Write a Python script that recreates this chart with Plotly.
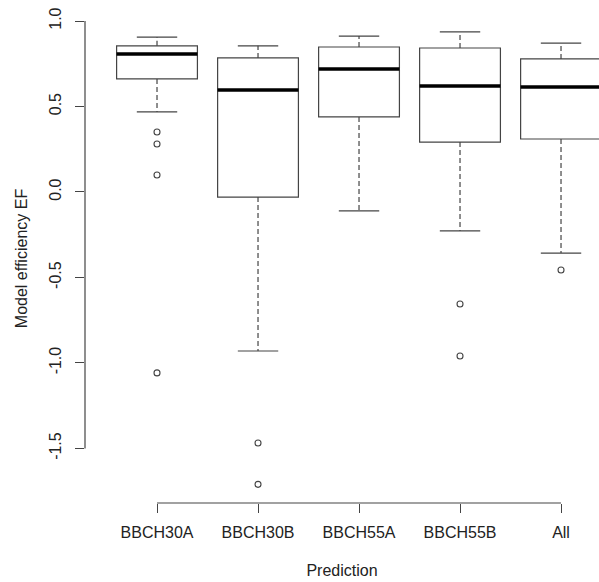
import plotly.graph_objects as go

categories = ["BBCH30A", "BBCH30B", "BBCH55A", "BBCH55B", "All"]
upper_whisker = [0.906, 0.855, 0.912, 0.936, 0.871]
q3 = [0.855, 0.784, 0.848, 0.842, 0.778]
median = [0.807, 0.596, 0.719, 0.620, 0.614]
q1 = [0.661, -0.030, 0.439, 0.292, 0.310]
lower_whisker = [0.468, -0.930, -0.111, -0.228, -0.357]
outliers = [[0.351, 0.281, 0.099, -1.058], [-1.468, -1.710], [], [-0.655, -0.959], [-0.456]]
y_ticks = [-1.5, -1.0, -0.5, 0.0, 0.5, 1.0]

positions = list(range(len(categories)))
BOX_W = 0.8
CAP_W = 0.4
FONT = "Liberation Sans, Arial, sans-serif"
GRAY = "#444444"

fig = go.Figure()

fig.add_trace(go.Box(
    x=positions, q1=q1, median=median, q3=q3,
    lowerfence=q1, upperfence=q3,
    width=BOX_W, fillcolor="white",
    line=dict(color=GRAY, width=1.2),
    boxpoints=False, showlegend=False, hoverinfo="skip",
))

stem_x, stem_y, cap_x, cap_y, med_x, med_y, out_x, out_y = [], [], [], [], [], [], [], []
for p, uw, hi, md, lo, lw, outs in zip(positions, upper_whisker, q3, median, q1, lower_whisker, outliers):
    stem_x += [p, p, None, p, p, None]
    stem_y += [hi, uw, None, lo, lw, None]
    cap_x += [p - CAP_W / 2, p + CAP_W / 2, None, p - CAP_W / 2, p + CAP_W / 2, None]
    cap_y += [uw, uw, None, lw, lw, None]
    med_x += [p - BOX_W / 2, p + BOX_W / 2, None]
    med_y += [md, md, None]
    for o in outs:
        out_x.append(p)
        out_y.append(o)

fig.add_trace(go.Scatter(x=stem_x, y=stem_y, mode="lines",
                         line=dict(color=GRAY, width=1.2, dash="5px,3px"),
                         showlegend=False, hoverinfo="skip"))
fig.add_trace(go.Scatter(x=cap_x, y=cap_y, mode="lines",
                         line=dict(color=GRAY, width=1.2),
                         showlegend=False, hoverinfo="skip"))
fig.add_trace(go.Scatter(x=med_x, y=med_y, mode="lines",
                         line=dict(color="black", width=3.5),
                         showlegend=False, hoverinfo="skip"))
fig.add_trace(go.Scatter(x=out_x, y=out_y, mode="markers",
                         marker=dict(symbol="circle-open", size=6, color=GRAY, line=dict(width=1.1)),
                         showlegend=False, hoverinfo="skip"))

# R-style axis lines spanning only first to last tick
fig.add_shape(type="line", xref="paper", yref="y", x0=0, x1=0,
              y0=min(y_ticks), y1=max(y_ticks), line=dict(color=GRAY, width=1.2))
fig.add_shape(type="line", xref="x", yref="paper", x0=positions[0], x1=positions[-1],
              y0=0, y1=0, line=dict(color=GRAY, width=1.2))

fig.update_layout(
    width=599, height=582,
    margin=dict(l=85, r=0, t=14, b=79),
    plot_bgcolor="white", paper_bgcolor="white",
    font=dict(family=FONT, size=16, color="#222222"),
    showlegend=False,
    xaxis=dict(
        range=[-0.713, 4.376], tickvals=positions, ticktext=categories,
        showgrid=False, zeroline=False, showline=False,
        ticks="outside", ticklen=9, tickcolor=GRAY, tickwidth=1.2,
        tickfont=dict(size=16), ticklabelstandoff=6,
        title=dict(text="Prediction", font=dict(size=16), standoff=24),
    ),
    yaxis=dict(
        range=[-1.819, 1.041], tickvals=y_ticks, ticktext=[f"{v:.1f}" for v in y_ticks],
        tickangle=-90,
        showgrid=False, zeroline=False, showline=False,
        ticks="outside", ticklen=9, tickcolor=GRAY, tickwidth=1.2,
        tickfont=dict(size=16), ticklabelstandoff=8,
        title=dict(text="Model efficiency EF", font=dict(size=16), standoff=14),
    ),
)

fig.write_html("out.html")
